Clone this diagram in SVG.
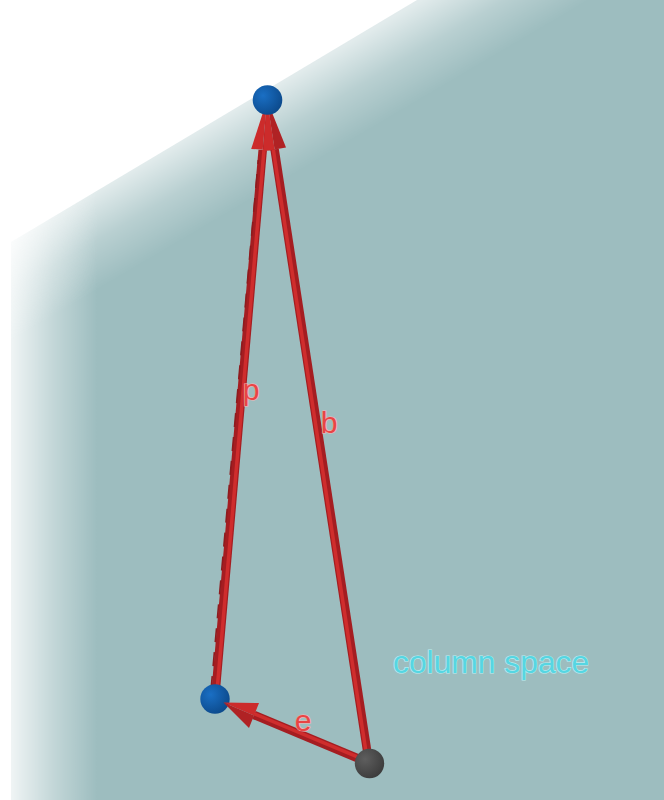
<svg xmlns="http://www.w3.org/2000/svg" width="664" height="800" viewBox="0 0 664 800">
<style>
.shaft{stroke:#a51d21;stroke-width:8.5;stroke-linecap:butt;fill:none}
.shine{stroke:#cf2d2d;stroke-width:3.5;fill:none}
.coneL{fill:#cc2b2b}
.coneR{fill:#b02224}
.lbl{font-family:"Liberation Sans",Arial,sans-serif;font-size:30px;fill:#e84545;stroke:#f9b3b3;stroke-width:1.2;paint-order:stroke}
.cs{font-family:"Liberation Sans",Arial,sans-serif;font-size:31.8px;fill:#56d6e2;stroke:#b9eef3;stroke-width:1.2;paint-order:stroke}
</style>
<defs>
<linearGradient id="fadeL" gradientUnits="userSpaceOnUse" x1="11" y1="0" x2="97" y2="0">
<stop offset="0" stop-color="#fff" stop-opacity="0.16"/>
<stop offset="0.5" stop-color="#fff" stop-opacity="0.62"/>
<stop offset="1" stop-color="#fff" stop-opacity="1"/>
</linearGradient>
<linearGradient id="fadeT" gradientUnits="userSpaceOnUse" x1="11" y1="242" x2="54" y2="315">
<stop offset="0" stop-color="#fff" stop-opacity="0.3"/>
<stop offset="0.5" stop-color="#fff" stop-opacity="0.72"/>
<stop offset="1" stop-color="#fff" stop-opacity="1"/>
</linearGradient>
<mask id="mL" maskUnits="userSpaceOnUse" x="0" y="0" width="664" height="800"><rect width="664" height="800" fill="url(#fadeL)"/></mask>
<mask id="mT" maskUnits="userSpaceOnUse" x="0" y="0" width="664" height="800"><rect width="664" height="800" fill="url(#fadeT)"/></mask>
<radialGradient id="blue" cx="0.35" cy="0.35" r="0.7">
<stop offset="0" stop-color="#1a6fc4"/>
<stop offset="1" stop-color="#0c4a8c"/>
</radialGradient>
<radialGradient id="gray" cx="0.35" cy="0.35" r="0.7">
<stop offset="0" stop-color="#5e5e5e"/>
<stop offset="1" stop-color="#3c3c3c"/>
</radialGradient>
</defs>
<rect width="664" height="800" fill="#fff"/>
<g id="plane">
<g mask="url(#mL)">
<polygon mask="url(#mT)" points="11,242 417,0 664,0 664,800 11,800" fill="#9dbdbf"/>
</g>
</g>
<g id="connectors">
<g id="vec-p">
<line class="shaft" x1="215" y1="699" x2="262.7" y2="150"/>
<line class="shine" x1="216.3" y1="699" x2="264" y2="150"/>
<line x1="211" y1="690" x2="258.3" y2="160" stroke="#8e1b1e" stroke-width="1.6" stroke-dasharray="14 10"/>
<polygon class="coneL" points="267,100 251.2,148.9 262.7,149.8"/>
<polygon class="coneR" points="267,100 262.7,149.8 274.2,150.8"/>
</g>
<g id="vec-b">
<line class="shaft" x1="369" y1="763" x2="274.6" y2="149.4"/>
<line class="shine" x1="367.7" y1="763" x2="273.3" y2="149.4"/>
<polygon class="coneL" points="267,100 263.2,151.2 274.6,149.4"/>
<polygon class="coneR" points="267,100 274.6,149.4 286,147.6"/>
</g>
</g>
<g id="node-p">
<circle cx="267.5" cy="100" r="14.8" fill="url(#blue)"/>
</g>
<g id="node-proj">
<circle cx="215" cy="699" r="14.7" fill="url(#blue)"/>
</g>
<g id="connectors-e">
<g id="vec-e">
<line class="shaft" x1="369" y1="763" x2="254" y2="715"/>
<line class="shine" x1="369.4" y1="761.8" x2="254.4" y2="713.8"/>
<polygon class="coneL" points="223.5,702.5 259,703 254,715.5"/>
<polygon class="coneR" points="223.5,702.5 254,715.5 249,728"/>
</g>
</g>
<g id="node-b">
<circle cx="369.5" cy="763.5" r="14.7" fill="url(#gray)"/>
</g>
<g id="labels">
<text class="lbl" x="251" y="400" text-anchor="middle">p</text>
<text class="lbl" x="329" y="433" text-anchor="middle">b</text>
<text class="lbl" x="303" y="731" text-anchor="middle">e</text>
<text class="cs" x="393" y="673">column space</text>
</g>
</svg>
